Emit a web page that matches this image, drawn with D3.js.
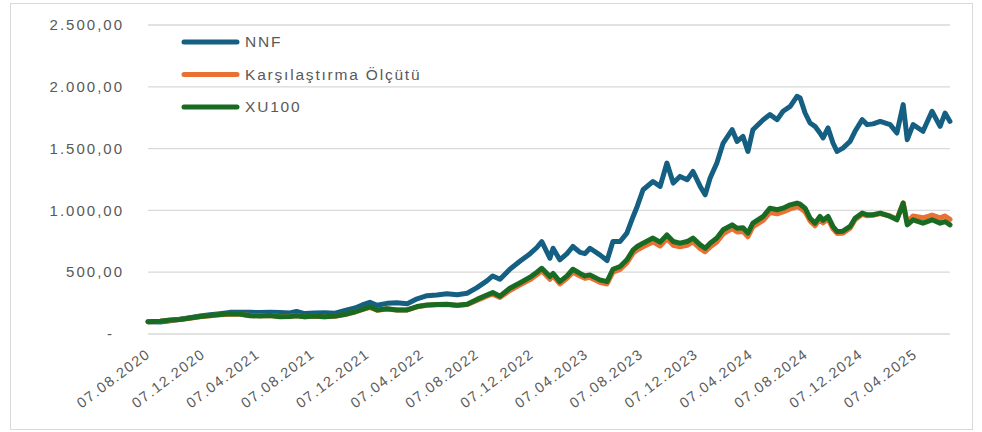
<!DOCTYPE html>
<html>
<head>
<meta charset="utf-8">
<script src="https://cdn.jsdelivr.net/npm/d3@7"></script>
<style>
  body { margin: 0; background: #fff; }
  text { font-family: "Liberation Sans", Arial, sans-serif; fill: #595959; }
</style>
</head>
<body>
<svg id="chart"></svg>
<script>
// dates of the readings (dd, roughly)
const dates = [
  '2020-08-07','2020-09-03','2020-09-25','2020-10-17','2020-11-08','2020-12-01','2020-12-23',
  '2021-01-14','2021-02-05','2021-02-27','2021-03-22','2021-04-13','2021-05-05','2021-05-27',
  '2021-06-18','2021-07-03','2021-07-21','2021-08-12','2021-09-03','2021-09-27','2021-10-19',
  '2021-11-10','2021-11-26','2021-12-13','2021-12-29','2022-01-20','2022-02-11','2022-03-06',
  '2022-03-28','2022-04-19','2022-05-11','2022-06-02','2022-06-25','2022-07-17','2022-08-08',
  '2022-08-30','2022-09-12','2022-09-28','2022-10-20','2022-11-12','2022-12-04','2022-12-19',
  '2022-12-30','2023-01-17','2023-01-24','2023-02-08','2023-02-24','2023-03-09','2023-03-25',
  '2023-04-05','2023-04-16','2023-05-08','2023-05-24','2023-06-06','2023-06-22','2023-07-07',
  '2023-07-21','2023-07-30','2023-08-12','2023-09-03','2023-09-19','2023-10-04','2023-10-18',
  '2023-11-02','2023-11-18','2023-12-01','2023-12-17','2023-12-28','2024-01-08','2024-01-23',
  '2024-02-06','2024-02-26','2024-03-08','2024-03-21','2024-04-01','2024-04-12','2024-05-05',
  '2024-05-20','2024-06-05','2024-06-18','2024-07-04','2024-07-19','2024-07-26','2024-08-06',
  '2024-08-17','2024-08-28','2024-09-08','2024-09-15','2024-09-26','2024-10-07','2024-10-16',
  '2024-10-29','2024-11-14','2024-11-25','2024-12-11','2024-12-22','2025-01-04','2025-01-20',
  '2025-02-11','2025-02-26','2025-03-12','2025-03-21','2025-04-03','2025-04-25','2025-05-15',
  '2025-06-02','2025-06-13','2025-06-24'
];

const nnf = [
  100, 97, 108, 120, 132, 145, 155,
  165, 175, 176, 175, 174, 175, 173,
  170, 182, 165, 170, 172, 168, 190,
  210, 235, 257, 232, 248, 252, 245,
  285, 310, 315, 325, 318, 330, 375,
  430, 470, 443, 524, 590, 650, 700,
  748, 613, 694, 600, 650, 708, 660,
  650, 694, 640, 594, 748, 748, 816,
  951, 1032, 1167, 1234, 1194, 1383, 1221,
  1275, 1248, 1315, 1194, 1126, 1262, 1383,
  1545, 1653, 1558, 1599, 1477, 1653, 1734,
  1775, 1734, 1802, 1842, 1923, 1910, 1788,
  1707, 1680, 1626, 1586, 1667, 1545, 1477,
  1504, 1558, 1640, 1734, 1694, 1700, 1720,
  1694, 1626, 1856, 1572, 1694, 1640, 1802,
  1680, 1788, 1720
];

const benchmark = [
  100, 103, 112, 118, 128, 140, 148,
  155, 160, 160, 150, 147, 150, 142,
  143, 147, 140, 144, 140, 143, 158,
  178, 197, 216, 193, 203, 194, 195,
  220, 233, 236, 238, 230, 238, 272,
  306, 322, 295, 352, 398, 440, 480,
  512, 442, 470, 405, 450, 500, 470,
  450, 458, 418, 405, 500, 522, 575,
  655, 680, 705, 745, 712, 770, 718,
  705, 718, 745, 690, 665, 705, 745,
  810, 852, 825, 830, 787, 866, 920,
  982, 972, 988, 1012, 1028, 1020, 988,
  915, 875, 930, 900, 930, 850, 814,
  816, 856, 925, 968, 956, 960, 975,
  955, 930, 1062, 902, 955, 940, 962,
  940, 955, 928
];

const xu100 = [
  100, 104, 113, 118, 130, 142, 150,
  158, 163, 162, 148, 145, 150, 140,
  142, 148, 140, 145, 140, 145, 160,
  180, 200, 220, 195, 205, 195, 195,
  222, 235, 238, 240, 232, 240, 280,
  315, 335, 305, 370, 415, 460, 500,
  532, 465, 490, 424, 470, 524, 490,
  470, 478, 438, 424, 524, 546, 600,
  681, 708, 735, 776, 743, 802, 748,
  735, 748, 776, 721, 694, 735, 776,
  843, 883, 856, 860, 816, 897, 951,
  1018, 1005, 1018, 1045, 1059, 1050, 1018,
  937, 897, 951, 920, 951, 870, 830,
  832, 870, 937, 978, 964, 965, 978,
  951, 924, 1059, 883, 924, 897, 924,
  897, 910, 883
];

const seriesNames = ['NNF', 'Karşılaştırma Ölçütü', 'XU100'];
const seriesColors = ['#156082', '#E97132', '#196B24'];
const yTicks = [0, 500, 1000, 1500, 2000, 2500];
const xTickDates = [
  '2020-08-07','2020-12-07','2021-04-07','2021-08-07','2021-12-07','2022-04-07','2022-08-07',
  '2022-12-07','2023-04-07','2023-08-07','2023-12-07','2024-04-07','2024-08-07','2024-12-07',
  '2025-04-07'
];

const W = 982, H = 432;
const parse = d3.timeParse('%Y-%m-%d');
const fmtDate = d3.timeFormat('%d.%m.%Y');
const fmtNum = d3.formatLocale({ decimal: ',', thousands: '.', grouping: [3], currency: ['', ''] }).format(',.2f');

const svg = d3.select('#chart').attr('width', W).attr('height', H);

svg.append('rect')
  .attr('x', 10.5).attr('y', 3.5)
  .attr('width', 962).attr('height', 426)
  .attr('fill', 'none')
  .attr('stroke', '#d9d9d9');

const x = d3.scaleTime()
  .domain([parse('2020-08-07'), parse('2025-06-24')])
  .range([148, 950]);
const y = d3.scaleLinear().domain([0, 2500]).range([334, 25]);

// gridlines
svg.append('g')
  .selectAll('line')
  .data(yTicks)
  .enter().append('line')
  .attr('x1', 148).attr('x2', 950)
  .attr('y1', d => y(d)).attr('y2', d => y(d))
  .attr('stroke', '#d9d9d9')
  .attr('stroke-width', 1.3);

// y labels
svg.append('g')
  .selectAll('text')
  .data(yTicks)
  .enter().append('text')
  .attr('x', d => d === 0 ? 114 : 124)
  .attr('y', d => y(d))
  .attr('dy', '0.35em')
  .attr('text-anchor', 'end')
  .attr('font-size', 15)
  .style('letter-spacing', '2px')
  .text(d => d === 0 ? '-' : fmtNum(d));

// x axis
const xAxis = d3.axisBottom(x)
  .tickValues(xTickDates.map(parse))
  .tickFormat(fmtDate)
  .tickSize(0);

const gx = svg.append('g')
  .attr('transform', `translate(0, ${y(0)})`)
  .call(xAxis);
gx.select('.domain').remove();
gx.selectAll('text')
  .attr('font-size', 14.5)
  .attr('font-family', '"Liberation Sans", Arial, sans-serif')
  .attr('fill', '#595959')
  .style('letter-spacing', '1.5px')
  .attr('text-anchor', 'end')
  .attr('y', 0)
  .attr('dy', 0)
  .attr('transform', 'translate(3, 22) rotate(-37)');

// lines
const rows = dates.map((d, i) => ({ date: parse(d), vals: [nnf[i], benchmark[i], xu100[i]] }));
const line = k => d3.line()
  .x(d => x(d.date))
  .y(d => y(d.vals[k]))(rows);

svg.append('g')
  .selectAll('path')
  .data(seriesNames)
  .enter().append('path')
  .attr('d', (d, i) => line(i))
  .attr('fill', 'none')
  .attr('stroke', (d, i) => seriesColors[i])
  .attr('stroke-width', 5)
  .attr('stroke-linejoin', 'round')
  .attr('stroke-linecap', 'round');

// legend
const legend = svg.append('g')
  .selectAll('g')
  .data(seriesNames)
  .enter().append('g')
  .attr('transform', (d, i) => `translate(0, ${42 + i * 32.5})`);

legend.append('line')
  .attr('x1', 184).attr('x2', 237)
  .attr('stroke', (d, i) => seriesColors[i])
  .attr('stroke-width', 5)
  .attr('stroke-linecap', 'round');

legend.append('text')
  .attr('x', 245)
  .attr('dy', '0.35em')
  .attr('font-size', 15.5)
  .style('letter-spacing', '1.8px')
  .text(d => d);
</script>
</body>
</html>
